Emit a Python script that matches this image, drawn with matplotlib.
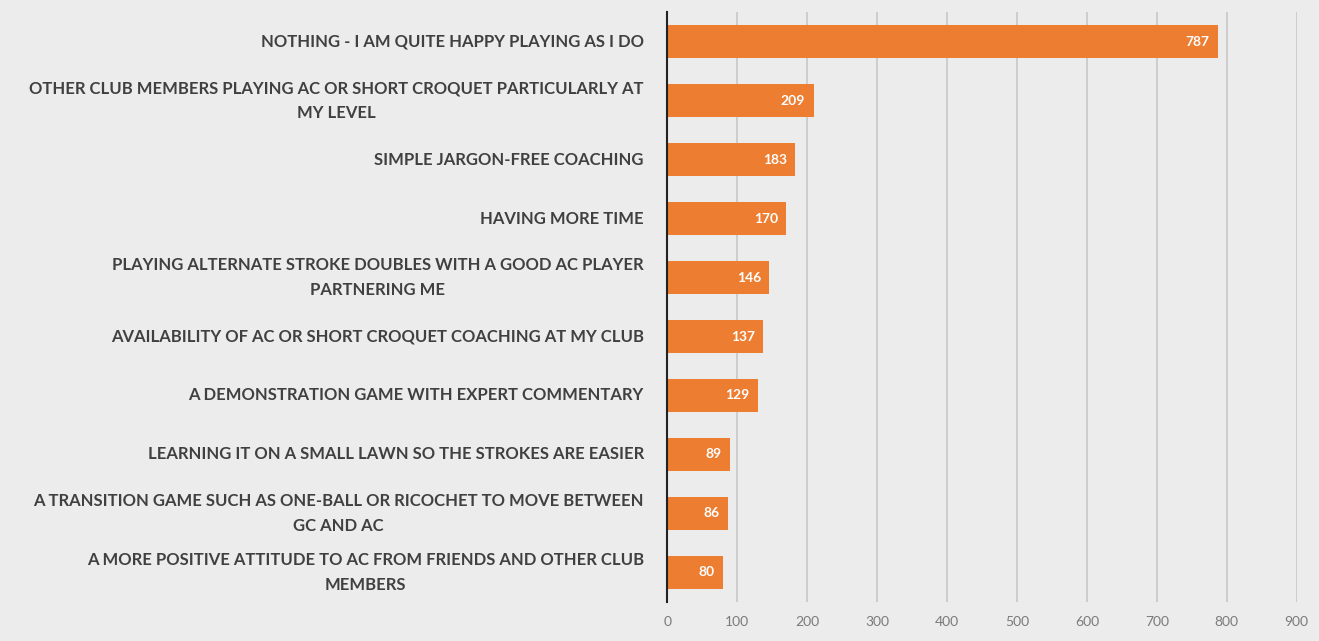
import matplotlib
matplotlib.use("Agg")
import matplotlib.pyplot as plt

categories = [
    "NOTHING - I AM QUITE HAPPY PLAYING AS I DO",
    "OTHER CLUB MEMBERS PLAYING AC OR SHORT CROQUET PARTICULARLY AT\nMY LEVEL",
    "SIMPLE JARGON-FREE COACHING",
    "HAVING MORE TIME",
    "PLAYING ALTERNATE STROKE DOUBLES WITH A GOOD AC PLAYER\nPARTNERING ME",
    "AVAILABILITY OF AC OR SHORT CROQUET COACHING AT MY CLUB",
    "A DEMONSTRATION GAME WITH EXPERT COMMENTARY",
    "LEARNING IT ON A SMALL LAWN SO THE STROKES ARE EASIER",
    "A TRANSITION GAME SUCH AS ONE-BALL OR RICOCHET TO MOVE BETWEEN\nGC AND AC",
    "A MORE POSITIVE ATTITUDE TO AC FROM FRIENDS AND OTHER CLUB\nMEMBERS",
]
values = [787, 209, 183, 170, 146, 137, 129, 89, 86, 80]
x_ticks = [0, 100, 200, 300, 400, 500, 600, 700, 800, 900]

plt.rcParams['font.family'] = ['Lato', 'DejaVu Sans']

fig = plt.figure(figsize=(13.19, 6.41), dpi=100)
fig.patch.set_facecolor('#ececec')
ax = fig.add_axes([0.506, 0.061, 0.477, 0.92])
ax.set_facecolor('#ececec')

ypos = list(range(len(categories)))
bars = ax.barh(ypos, values, height=0.57, color='#ED7D31', zorder=3)
ax.set_ylim(len(categories) - 0.5, -0.5)
ax.set_xlim(0, 900)
ax.set_xticks(x_ticks)
ax.set_xticklabels([str(t) for t in x_ticks], color='#7a7a7a', fontsize=10)
ax.set_yticks(ypos)
ax.set_yticklabels(categories, fontsize=12, fontweight='bold', color='#404040',
                   ha='right', va='center', multialignment='center', linespacing=1.65)
ax.tick_params(axis='y', length=0, pad=17)
ax.tick_params(axis='x', length=0, pad=10)
ax.grid(axis='x', color='#c4c4c4', linewidth=1.1, zorder=0)
for s in ['top', 'right', 'bottom']:
    ax.spines[s].set_visible(False)
ax.spines['left'].set_color('#222222')
ax.spines['left'].set_linewidth(1.5)
ax.spines['left'].set_zorder(4)

for b, v in zip(bars, values):
    ax.text(b.get_width() - 12, b.get_y() + b.get_height() / 2, str(v),
            ha='right', va='center', color='white', fontsize=10, fontweight='bold', zorder=4)

fig.savefig('out.png', dpi=100, facecolor=fig.get_facecolor())
